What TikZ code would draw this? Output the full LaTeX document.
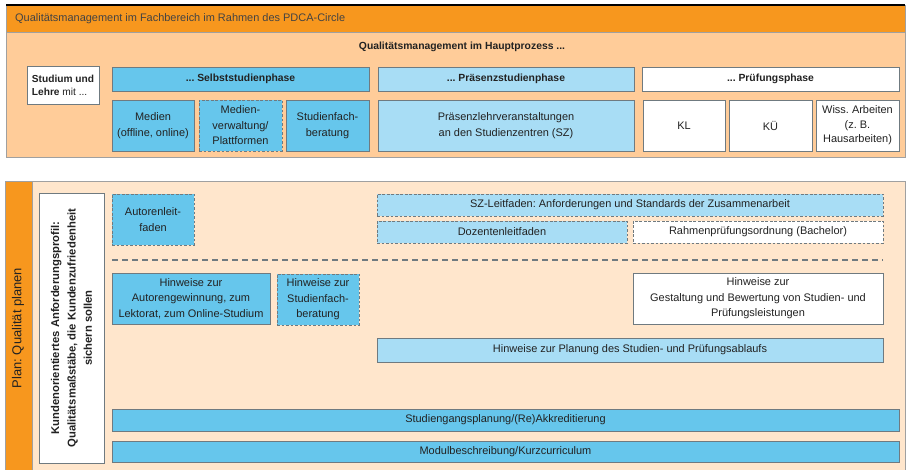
\documentclass[tikz,border=0pt]{standalone}
\usepackage{fontspec}
\setmainfont{Liberation Sans}
\frenchspacing
\definecolor{hdrorange}{HTML}{F7971E}
\definecolor{toppeach}{HTML}{FFCC99}
\definecolor{botpeach}{HTML}{FFE6CC}
\definecolor{midblue}{HTML}{66C6EC}
\definecolor{liteblue}{HTML}{A8DDF5}
\definecolor{bordc}{HTML}{6F7A80}
\definecolor{panelc}{HTML}{A0A0A0}
\definecolor{txt}{HTML}{222222}
\newcommand\fs{\fontsize{11}{15.5}\selectfont}
\newcommand\fsb{\fontsize{10.4}{12.6}\selectfont\bfseries}
\newcommand\bx[7]{\node[#6, minimum width={(#4-#2)*1bp}, minimum height={(#5-#3)*1bp}] (#1) at ({(#2+#4)/2},{(#3+#5)/2}) {#7};}
\begin{document}
\begin{tikzpicture}[x=1bp,y=-1bp,
  bx/.style={draw=bordc, line width=0.8bp, inner sep=1bp, outer sep=0pt, align=center, font=\fs, text=txt},
  mid/.style={bx, fill=midblue},
  lite/.style={bx, fill=liteblue},
  wht/.style={bx, fill=white},
  dsh/.style={dash pattern=on 2.6bp off 1.9bp},
  panel/.style={draw=panelc, line width=0.8bp, inner sep=0pt, outer sep=0pt}]
\useasboundingbox (0,0) rectangle (909,470);
% top panel
\bx{toppanel}{6}{5}{905}{157}{panel, fill=toppeach}{}
\bx{hdrbar}{6}{5}{905}{32}{panel, fill=hdrorange}{}
\draw[line width=1.2bp, black] (toppanel.north west) -- (toppanel.north east);
\node[anchor=west, font=\fs, text=txt!85, inner sep=0pt] (hdrtext) at (15,19) {Qualitätsmanagement im Fachbereich im Rahmen des PDCA-Circle};
\node[font=\fsb, text=txt, inner sep=0pt] (hauptproz) at (462,47) {Qualitätsmanagement im Hauptprozess ...};
\bx{studium}{27}{66}{99}{104}{wht, align=left, font=\fontsize{10.2}{13}\selectfont}{\textbf{Studium und}\\\textbf{Lehre} mit ...}
\bx{selbst}{112}{67}{369}{91}{mid, font=\fsb}{... Selbststudienphase}
\bx{praes}{378}{67}{634}{91}{lite, font=\fsb}{... Präsenzstudienphase}
\bx{pruef}{642}{67}{899}{91}{wht, font=\fsb}{... Prüfungsphase}
\bx{medien}{112}{100}{194}{151}{mid}{Medien\\(offline, online)}
\bx{medverw}{199}{100}{282}{151}{mid, dsh}{Medien-\\verwaltung/\\Plattformen}
\bx{sfb}{286}{100}{369}{151}{mid}{Studienfach-\\beratung}
\bx{praesla}{378}{100}{634}{151}{lite}{Präsenzlehrveranstaltungen\\an den Studienzentren (SZ)}
\bx{kl}{643}{100}{725}{151}{wht}{KL}
\bx{ku}{729}{100}{812}{151}{wht}{KÜ}
\bx{wiss}{816}{100}{899}{151}{wht, font=\fontsize{11}{14.5}\selectfont}{Wiss. Arbeiten\\(z. B.\\Hausarbeiten)}
% bottom panel
\bx{botpanel}{5}{181}{905}{472}{panel, fill=botpeach}{}
\bx{planstrip}{5}{181}{32}{472}{panel, fill=hdrorange}{}
\node[rotate=90, font=\fontsize{13}{15}\selectfont, text=txt, inner sep=0pt] (plantext) at (18,328) {Plan: Qualität planen};
\bx{kunden}{39}{193}{104}{463}{wht}{}
\node[rotate=90, font=\fontsize{11.3}{16.5}\selectfont\bfseries, text=txt, align=center, inner sep=0pt] (kundentext) at (kunden.center) {Kundenorientiertes Anforderungsprofil:\\Qualitätsmaßstäbe, die Kundenzufriedenheit\\sichern sollen};
\bx{autleit}{112}{194}{194}{245}{mid, dsh}{Autorenleit-\\faden}
\bx{szleit}{377}{194}{883}{216}{lite, dsh}{SZ-Leitfaden: Anforderungen und Standards der Zusammenarbeit}
\bx{dozleit}{377}{221}{627}{243}{lite, dsh}{Dozentenleitfaden}
\bx{rpo}{633}{221}{883}{243}{wht, dsh}{Rahmenprüfungsordnung (Bachelor)}
\coordinate (sepL) at (112,260);
\coordinate (sepR) at (883,260);
\draw[bordc, line width=1.1bp, dash pattern=on 6bp off 4bp] (sepL) -- (sepR);
\bx{hwautor}{112}{273}{270}{324}{mid}{Hinweise zur\\Autorengewinnung, zum\\Lektorat, zum Online-Studium}
\bx{hwsfb}{277}{274}{359}{325}{mid, dsh}{Hinweise zur\\Studienfach-\\beratung}
\bx{hwgest}{633}{273}{883}{324}{wht}{Hinweise zur\\Gestaltung und Bewertung von Studien- und\\Prüfungsleistungen}
\bx{hwplan}{377}{338}{883}{362}{lite}{Hinweise zur Planung des Studien- und Prüfungsablaufs}
\bx{sgplan}{112}{409}{899}{431}{mid}{Studiengangsplanung/(Re)Akkreditierung}
\bx{modul}{112}{441}{899}{462}{mid}{Modulbeschreibung/Kurzcurriculum}
\end{tikzpicture}
\end{document}
